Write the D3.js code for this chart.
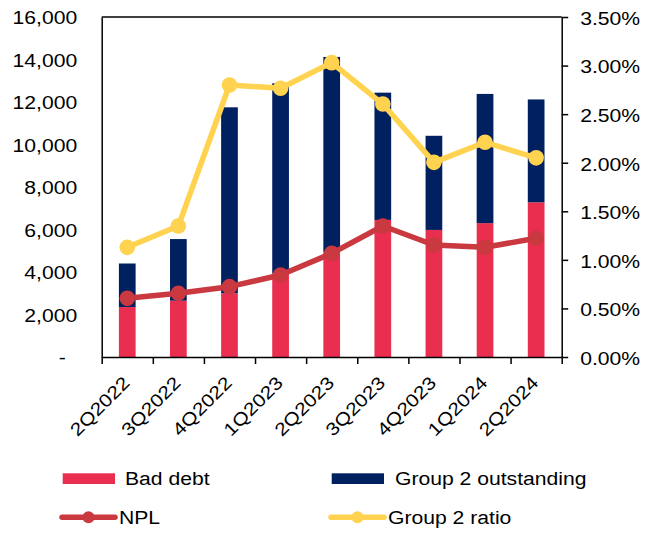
<!DOCTYPE html>
<html>
<head>
<meta charset="utf-8">
<script src="https://cdn.jsdelivr.net/npm/d3@7"></script>
<style>
  html, body { margin: 0; padding: 0; background: #fff; }
  svg { display: block; font-family: "Liberation Sans", Arial, sans-serif; }
</style>
</head>
<body>
<svg id="chart" width="660" height="534"></svg>
<script>
const categories = ["2Q2022","3Q2022","4Q2022","1Q2023","2Q2023","3Q2023","4Q2023","1Q2024","2Q2024"];
const badDebt = [2350, 2650, 3000, 3950, 4950, 6450, 5980, 6300, 7280];
const group2Outstanding = [2050, 2900, 8750, 8930, 9170, 5990, 4430, 6080, 4840];
const nplRatio = [0.00604, 0.00656, 0.00724, 0.00844, 0.01067, 0.01349, 0.01153, 0.01129, 0.01222];
const group2Ratio = [0.01129, 0.01349, 0.0280, 0.02766, 0.0303, 0.02604, 0.02004, 0.0221, 0.0205];
const leftTicks = [0, 2000, 4000, 6000, 8000, 10000, 12000, 14000, 16000];
const rightTicks = [0, 0.005, 0.01, 0.015, 0.02, 0.025, 0.03, 0.035];

const C_BAD = "#EA2E4F", C_G2 = "#002060", C_NPL = "#C9393F", C_G2R = "#FFD24F";
const SX = 1.175; // horizontal text stretch
const FS = 18;

const svg = d3.select("#chart");
const L = 101.7, R = 561.7, T = 17, B = 357;

const x = d3.scaleBand().domain(categories).range([L, R]).padding(0);
const bw = x.bandwidth();
const barW = bw * 0.327;
const yL = d3.scaleLinear().domain([0, 16000]).range([B, T]);
const yR = d3.scaleLinear().domain([0, 0.035]).range([B, T]);

// bars
const stackData = categories.map((c, i) => ({c, bad: badDebt[i], g2: group2Outstanding[i]}));
const series = d3.stack().keys(["bad", "g2"])(stackData);
const colors = {bad: C_BAD, g2: C_G2};
svg.append("g").selectAll("g").data(series).join("g")
  .attr("fill", s => colors[s.key])
  .selectAll("rect").data(s => s).join("rect")
  .attr("x", d => x(d.data.c) + (bw - barW) / 2)
  .attr("width", barW)
  .attr("y", d => yL(d[1]))
  .attr("height", d => yL(d[0]) - yL(d[1]));

// frame: top line
svg.append("line").attr("x1", L).attr("x2", R).attr("y1", T).attr("y2", T)
  .attr("stroke", "#000").attr("stroke-width", 1.5);

// left axis
const gL = svg.append("g").attr("transform", `translate(${L},0)`)
  .call(d3.axisLeft(yL).tickValues(leftTicks).tickSize(0).tickPadding(0)
    .tickFormat(d => d === 0 ? "-" : d3.format(",")(d)));
gL.select(".domain").attr("stroke", "#000").attr("stroke-width", 1.5);
gL.selectAll("text")
  .attr("x", null).attr("dy", null)
  .attr("font-size", FS).attr("font-family", "Liberation Sans, Arial, sans-serif").attr("fill", "#000")
  .attr("dominant-baseline", "central")
  .attr("transform", d => `translate(${d === 0 ? -36 : -24.5},0.5) scale(${SX},1)`);

// right axis
const gR = svg.append("g").attr("transform", `translate(${R},0)`)
  .call(d3.axisRight(yR).tickValues(rightTicks).tickSize(6.5).tickSizeOuter(0)
    .tickFormat(d3.format(".2%")));
gR.select(".domain").attr("stroke", "#000").attr("stroke-width", 1.5);
gR.selectAll(".tick line").attr("stroke", "#000").attr("stroke-width", 1.5);
gR.selectAll("text")
  .attr("x", null).attr("dy", null)
  .attr("text-anchor", "start")
  .attr("font-size", FS).attr("font-family", "Liberation Sans, Arial, sans-serif").attr("fill", "#000")
  .attr("dominant-baseline", "central")
  .attr("transform", `translate(18.5,1) scale(${SX},1)`);

// bottom axis with ticks at category boundaries
const xb = d3.scaleLinear().domain([0, categories.length]).range([L, R]);
const gB = svg.append("g").attr("transform", `translate(0,${B})`)
  .call(d3.axisBottom(xb).tickValues(d3.range(categories.length + 1)).tickSize(7).tickSizeOuter(0).tickFormat(""));
gB.select(".domain").attr("stroke", "#000").attr("stroke-width", 1.5);
gB.selectAll(".tick line").attr("stroke", "#000").attr("stroke-width", 1.5);

// category labels
svg.append("g").selectAll("text").data(categories).join("text")
  .attr("text-anchor", "end")
  .attr("font-size", FS)
  .attr("fill", "#000")
  .attr("transform", c => `translate(${x(c) + bw / 2 + 3.5},${384}) rotate(-45) scale(${SX},1)`)
  .text(c => c);

// lines
function drawLine(vals, color) {
  const line = d3.line().x((d, i) => x(categories[i]) + bw / 2).y(d => yR(d));
  svg.append("path").datum(vals).attr("d", line)
    .attr("fill", "none").attr("stroke", color).attr("stroke-width", 5.5)
    .attr("stroke-linejoin", "round");
  svg.append("g").selectAll("circle").data(vals).join("circle")
    .attr("cx", (d, i) => x(categories[i]) + bw / 2)
    .attr("cy", d => yR(d))
    .attr("r", 7.8)
    .attr("fill", color);
}
drawLine(nplRatio, C_NPL);
drawLine(group2Ratio, C_G2R);

// legend
const lg = svg.append("g");
function legendText(tx, ty, label) {
  lg.append("text").attr("font-size", FS).attr("fill", "#000")
    .attr("transform", `translate(${tx},${ty}) scale(${SX},1)`).text(label);
}
lg.append("rect").attr("x", 62.7).attr("y", 473.3).attr("width", 52.3).attr("height", 10.7).attr("fill", C_BAD);
legendText(125, 484.5, "Bad debt");
lg.append("rect").attr("x", 331.7).attr("y", 473.3).attr("width", 52.3).attr("height", 10.7).attr("fill", C_G2);
legendText(395, 484.5, "Group 2 outstanding");
function legendLine(x1, x2, y, color) {
  lg.append("line").attr("x1", x1).attr("x2", x2).attr("y1", y).attr("y2", y)
    .attr("stroke", color).attr("stroke-width", 5.5).attr("stroke-linecap", "round");
  lg.append("circle").attr("cx", (x1 + x2) / 2).attr("cy", y).attr("r", 6).attr("fill", color);
}
legendLine(62, 115, 517.3, C_NPL);
legendText(119, 524, "NPL");
legendLine(331, 384, 517.3, C_G2R);
legendText(388, 524, "Group 2 ratio");
</script>
</body>
</html>
